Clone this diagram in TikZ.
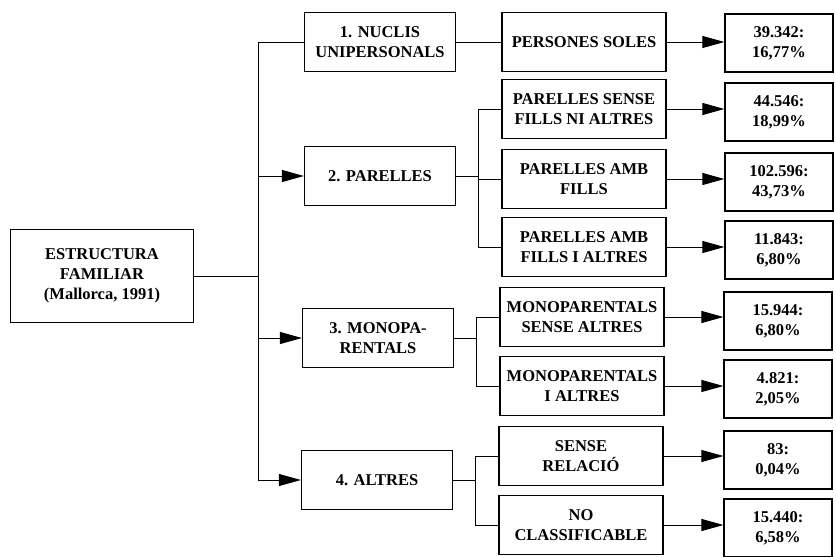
\documentclass[tikz,border=0pt]{standalone}
\usepackage{fontspec}
\setmainfont{Liberation Serif}
\usetikzlibrary{arrows.meta}
\begin{document}
\begin{tikzpicture}[x=1pt,y=-1pt,
  box/.style={draw,line width=1.2pt,align=center,inner sep=1pt,
    font=\fontsize{16.5}{20}\selectfont\bfseries},
  lone/.style={box,minimum width=151pt,minimum height=59pt},
  ltwo/.style={box,minimum width=164pt,minimum height=59pt},
  lthree/.style={box,minimum width=108pt,minimum height=58pt},
  conn/.style={line width=1pt},
  arr/.style={conn,-{Triangle[length=22pt,width=12pt]}}]
\useasboundingbox (0,0) rectangle (836,557);
% root
\node[box,minimum width=183pt,minimum height=93pt] (root) at (102,276)
  {ESTRUCTURA\\FAMILIAR\\(Mallorca, 1991)};
% level 1
\node[lone] (n1) at (380,42) {1. NUCLIS\\UNIPERSONALS};
\node[lone] (n2) at (380,176) {2. PARELLES};
\node[lone] (n3) at (378,338) {3. MONOPA-\\RENTALS};
\node[lone] (n4) at (377,480) {4. ALTRES};
% level 2
\node[ltwo] (p1) at (584,42) {PERSONES SOLES};
\node[ltwo] (p2) at (584,109) {PARELLES SENSE\\FILLS NI ALTRES};
\node[ltwo] (p3) at (584,179) {PARELLES AMB\\FILLS};
\node[ltwo] (p4) at (584,247) {PARELLES AMB\\FILLS I ALTRES};
\node[ltwo] (p5) at (582,317) {MONOPARENTALS\\SENSE ALTRES};
\node[ltwo] (p6) at (582,386) {MONOPARENTALS\\I ALTRES};
\node[ltwo] (p7) at (581,456) {SENSE\\RELACIÓ};
\node[ltwo] (p8) at (581,525) {NO\\CLASSIFICABLE};
% level 3
\node[lthree] (r1) at (779,43) {39.342:\\16,77\%};
\node[lthree] (r2) at (779,112) {44.546:\\18,99\%};
\node[lthree] (r3) at (779,182) {102.596:\\43,73\%};
\node[lthree] (r4) at (779,250) {11.843:\\6,80\%};
\node[lthree] (r5) at (778,321) {15.944:\\6,80\%};
\node[lthree] (r6) at (778,389) {4.821:\\2,05\%};
\node[lthree] (r7) at (778,460) {83:\\0,04\%};
\node[lthree] (r8) at (778,528) {15.440:\\6,58\%};
% trunk
\coordinate (J) at (258,276);
\draw[conn] (root.east) -- (J);
\draw[conn] (J) |- (n1.west);
\draw[arr] (J) |- (n2.west);
\draw[arr] (J) |- (n3.west);
\draw[arr] (J) |- (n4.west);
% level1 -> level2
\draw[conn] (n1.east) -- (p1.west);
\coordinate (B2) at (478,176);
\draw[conn] (n2.east) -- (B2);
\draw[conn] (B2) |- (p2.west);
\draw[conn] (B2) |- (p3.west);
\draw[conn] (B2) |- (p4.west);
\coordinate (B3) at (476,338);
\draw[conn] (n3.east) -- (B3);
\draw[conn] (B3) |- (p5.west);
\draw[conn] (B3) |- (p6.west);
\coordinate (B4) at (475,480);
\draw[conn] (n4.east) -- (B4);
\draw[conn] (B4) |- (p7.west);
\draw[conn] (B4) |- (p8.west);
% level2 -> level3
\foreach \i in {1,...,8} {
  \draw[arr] (p\i.east) -- (p\i.east -| r\i.west);
}
\end{tikzpicture}
\end{document}
